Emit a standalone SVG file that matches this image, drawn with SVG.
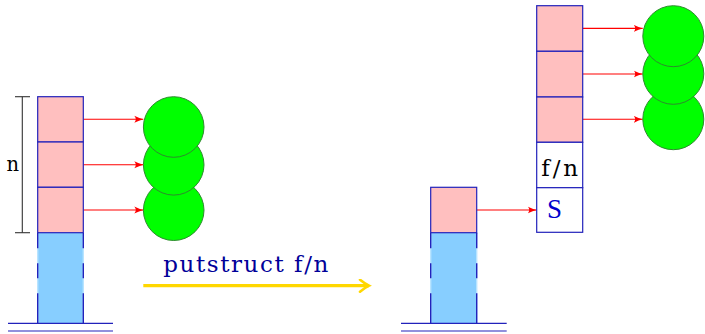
<svg xmlns="http://www.w3.org/2000/svg" width="705" height="334" viewBox="0 0 705 334">
<defs>
<style>
.pink{fill:#FFBFBF;stroke:#2222BB;stroke-width:1.2}
.white{fill:#FFFFFF;stroke:#2222BB;stroke-width:1.2}
.blue{fill:#87CEFF;stroke:none}
.side{stroke:#B8E4FF;stroke-width:1.4}
.dash{stroke:#2222BB;stroke-width:1.4;stroke-dasharray:15.5 15 15 15 30}
.ground{stroke:#2222BB;stroke-width:1.2}
.circ{fill:#00FF00;stroke:#2E8B2E;stroke-width:1}
.ptr{stroke:#FF0000;stroke-width:1.1;fill:none;marker-end:url(#redhead)}
.lbl{font-family:"DejaVu Serif",serif}
</style>
<marker id="redhead" markerWidth="10" markerHeight="8" refX="9" refY="4" orient="auto" markerUnits="userSpaceOnUse">
<path d="M0,0.5 Q5,3 9,4 Q5,5 0,7.5 Q3,4 0,0.5 Z" fill="#FF0000"/>
</marker>
<marker id="yellowhead" markerWidth="14" markerHeight="14" refX="11" refY="7" orient="auto" markerUnits="userSpaceOnUse">
<path d="M2,1 Q7,5 11,7 Q7,9 2,13" fill="none" stroke="#FFD700" stroke-width="2.6" stroke-linecap="round"/>
</marker>
</defs>
<rect width="705" height="334" fill="#FFFFFF"/>

<g id="connectors">
<line class="ptr" x1="83.3" y1="119.3" x2="143.3" y2="119.3"/>
<line class="ptr" x1="83.3" y1="164.7" x2="143.3" y2="164.7"/>
<line class="ptr" x1="83.3" y1="210" x2="143.3" y2="210"/>
<line class="ptr" x1="476.7" y1="210" x2="536.7" y2="210"/>
<line class="ptr" x1="582.7" y1="28.4" x2="642.7" y2="28.4"/>
<line class="ptr" x1="582.7" y1="74" x2="642.7" y2="74"/>
<line class="ptr" x1="582.7" y1="119.3" x2="642.7" y2="119.3"/>
<line x1="143.3" y1="285.7" x2="369" y2="285.7" stroke="#FFD700" stroke-width="3.2" marker-end="url(#yellowhead)"/>
</g>

<g id="left-stack">
<rect class="blue" x="37.7" y="232.7" width="45.6" height="90.6"/>
<line class="side" x1="37.7" y1="232.7" x2="37.7" y2="323.3"/>
<line class="side" x1="83.3" y1="232.7" x2="83.3" y2="323.3"/>
<line class="dash" x1="37.7" y1="232.7" x2="37.7" y2="323.3"/>
<line class="dash" x1="83.3" y1="232.7" x2="83.3" y2="323.3"/>
<rect class="pink" x="37.7" y="96.7" width="45.6" height="45.3"/>
<rect class="pink" x="37.7" y="142" width="45.6" height="45.3"/>
<rect class="pink" x="37.7" y="187.3" width="45.6" height="45.4"/>
<line class="ground" x1="8" y1="323.3" x2="113" y2="323.3"/>
<line class="ground" x1="8" y1="331" x2="113" y2="331"/>
</g>

<g id="bracket-n">
<line x1="22.3" y1="96.7" x2="22.3" y2="232.7" stroke="#333333" stroke-width="1.1"/>
<line x1="15" y1="96.7" x2="30" y2="96.7" stroke="#333333" stroke-width="1.1"/>
<line x1="15" y1="232.7" x2="30" y2="232.7" stroke="#333333" stroke-width="1.1"/>
<text class="lbl" x="12.8" y="171" font-size="19.5" text-anchor="middle" fill="#000000">n</text>
</g>

<g id="left-objects">
<circle class="circ" cx="173.7" cy="210.2" r="30.3"/>
<circle class="circ" cx="173.7" cy="164.8" r="30.3"/>
<circle class="circ" cx="173.7" cy="127" r="30.3"/>
</g>

<g id="transition">
<text class="lbl" x="163.3" y="272" font-size="23" fill="#000099" textLength="165" lengthAdjust="spacing">putstruct f/n</text>
</g>

<g id="middle-stack">
<rect class="blue" x="430.7" y="232.7" width="46" height="90.6"/>
<line class="side" x1="430.7" y1="232.7" x2="430.7" y2="323.3"/>
<line class="side" x1="476.7" y1="232.7" x2="476.7" y2="323.3"/>
<line class="dash" x1="430.7" y1="232.7" x2="430.7" y2="323.3"/>
<line class="dash" x1="476.7" y1="232.7" x2="476.7" y2="323.3"/>
<rect class="pink" x="430.7" y="187.3" width="46" height="45.4"/>
<line class="ground" x1="401" y1="323.3" x2="506.7" y2="323.3"/>
<line class="ground" x1="401" y1="331" x2="506.7" y2="331"/>
</g>

<g id="heap-struct">
<rect class="pink" x="536.7" y="5.7" width="46" height="45.6"/>
<rect class="pink" x="536.7" y="51.3" width="46" height="45.7"/>
<rect class="pink" x="536.7" y="97" width="46" height="45.3"/>
<rect class="white" x="536.7" y="142.3" width="46" height="45.4"/>
<rect class="white" x="536.7" y="187.7" width="46" height="44.6"/>
<text class="lbl" x="559.7" y="176" font-size="23" text-anchor="middle" fill="#000000" textLength="37" lengthAdjust="spacing">f/n</text>
<text x="554.5" y="217.7" font-family="Liberation Serif, serif" font-size="27" text-anchor="middle" fill="#0000CC">S</text>
</g>

<g id="right-objects">
<circle class="circ" cx="673.3" cy="119.2" r="30.5"/>
<circle class="circ" cx="673.3" cy="73.8" r="30.5"/>
<circle class="circ" cx="673.3" cy="36.2" r="30.5"/>
</g>
</svg>
